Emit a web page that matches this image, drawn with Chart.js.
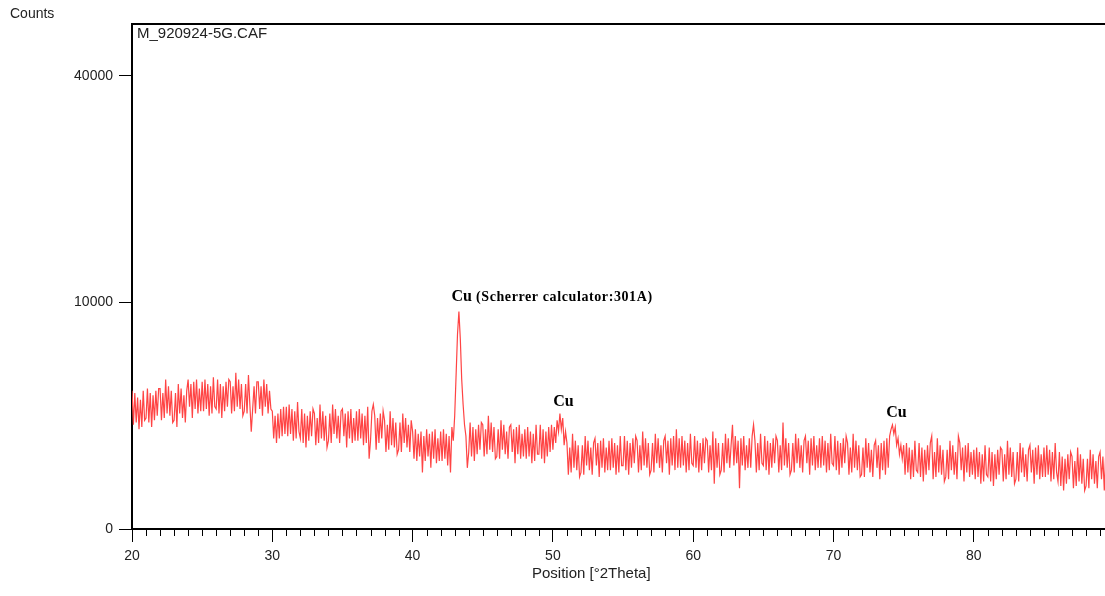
<!DOCTYPE html>
<html>
<head>
<meta charset="utf-8">
<title>M_920924-5G.CAF</title>
<script src="https://cdn.jsdelivr.net/npm/chart.js@4.4.1/dist/chart.umd.min.js"></script>
<style>
  html, body { margin: 0; padding: 0; background: #fff; }
</style>
</head>
<body>
<canvas id="xrdChart" width="1105" height="596"></canvas>
<script>
// scan: 20.0 .. 89.4 °2Theta, 0.1° step
const scanStart = 20.0;
const scanStep = 0.1;

// counts, ten points per degree (one row per degree)
const counts = [
  3721, 2116, 3600, 2209, 3364, 1936, 3249, 2025, 3721, 2304, // 20
  2401, 3844, 2209, 3600, 2025, 3481, 2304, 3721, 2500, 3844, // 21
  3844, 2304, 3600, 2401, 4356, 2601, 3969, 2500, 3721, 2209, // 22
  2304, 3600, 2025, 4096, 2601, 3844, 2401, 3481, 2209, 3721, // 23
  4356, 2916, 4096, 2401, 4225, 2809, 4356, 2601, 3844, 2704, // 24
  4225, 2704, 4356, 2809, 4096, 2500, 3969, 2601, 4489, 2916, // 25
  2809, 4356, 2601, 4096, 2401, 3969, 2704, 4225, 2916, 4356, // 26
  4225, 2601, 3969, 2704, 4761, 2916, 4356, 2809, 4096, 2500, // 27
  2704, 4096, 2601, 4624, 3025, 1849, 2809, 3969, 2601, 4225, // 28
  4225, 2809, 3969, 2500, 4356, 2916, 4096, 2601, 3721, 2809, // 29
  2704, 1600, 2500, 1444, 2601, 1600, 2809, 1681, 2916, 1764, // 30
  2916, 1681, 3025, 1764, 2809, 1521, 2704, 1600, 3136, 1849, // 31
  1600, 2809, 1444, 2601, 1296, 2500, 1521, 2704, 1681, 2809, // 32
  2601, 1369, 2401, 1444, 3025, 1600, 2704, 1521, 2500, 1296, // 33
  1521, 2601, 1444, 3025, 1764, 2809, 1600, 2500, 1444, 2704, // 34
  2809, 1681, 2601, 1296, 2704, 1600, 2809, 1444, 2401, 1521, // 35
  2704, 1521, 2809, 1600, 2601, 1369, 2500, 1444, 2916, 961,  // 36
  1521, 2704, 3025, 2500, 1225, 2401, 1444, 2601, 1600, 2704, // 37
  2304, 1156, 2116, 1225, 2704, 1369, 2401, 1296, 2209, 1089, // 38
  1225, 2209, 1156, 2601, 1444, 2401, 1296, 2116, 1156, 2304, // 39
  1849, 961,  1936, 900,  1764, 1024, 1849, 625,  1681, 900,  // 40
  1936, 1024, 1764, 729,  1849, 961,  1936, 841,  1600, 900,  // 41
  1849, 900,  1936, 961,  1764, 784,  1681, 625,  2025, 1521, // 42
  2500, 4624, 7396, 9216, 7056, 4356, 3025, 2116, 1681, 729,  // 43
  1156, 2209, 1024, 2025, 900,  1936, 1089, 2116, 1225, 2209, // 44
  2116, 1024, 1936, 1089, 2500, 1225, 2209, 1156, 2025, 961,  // 45
  1024, 1936, 961,  2304, 1225, 2116, 1089, 1849, 961,  2025, // 46
  2116, 1156, 1936, 841,  2025, 1089, 2116, 961,  1764, 1024, // 47
  1936, 961,  2025, 1024, 1849, 841,  1764, 900,  2116, 1089, // 48
  1089, 2116, 961,  1936, 841,  1849, 1024, 2025, 1156, 2116, // 49
  1225, 2025, 1444, 2304, 1849, 2601, 1936, 2401, 1369, 1849, // 50
  1444, 576,  1296, 625,  1764, 729,  1521, 676,  1369, 529,  // 51
  625,  1369, 576,  1681, 784,  1521, 676,  1296, 576,  1444, // 52
  1600, 784,  1444, 529,  1521, 729,  1600, 625,  1296, 676,  // 53
  1521, 676,  1600, 729,  1444, 576,  1369, 625,  1681, 784,  // 54
  784,  1681, 676,  1521, 576,  1444, 729,  1600, 841,  1681, // 55
  1521, 625,  1369, 676,  1849, 784,  1600, 729,  1444, 576,  // 56
  676,  1444, 625,  1764, 841,  1600, 729,  1369, 625,  1521, // 57
  1681, 841,  1521, 576,  1600, 784,  1681, 676,  1936, 729,  // 58
  1600, 729,  1681, 784,  1521, 625,  1444, 676,  1764, 841,  // 59
  784,  1681, 729,  1521, 625,  1444, 676,  1600, 841,  1600, // 60
  1521, 625,  1369, 676,  1849, 400,  1600, 729,  1444, 576,  // 61
  676,  1444, 625,  1764, 841,  1600, 729,  1369, 2116, 784,  // 62
  1681, 841,  1521, 324,  1600, 784,  1681, 676,  1369, 729,  // 63
  1600, 729,  1681, 2116, 1521, 625,  1444, 676,  1764, 841,  // 64
  784,  1681, 676,  1521, 576,  1444, 729,  1600, 841,  1681, // 65
  1521, 625,  1369, 676,  2209, 784,  1600, 729,  1444, 576,  // 66
  676,  1444, 625,  1764, 841,  1600, 729,  1369, 625,  1521, // 67
  1681, 841,  1521, 576,  1600, 784,  1681, 676,  1369, 729,  // 68
  1600, 729,  1681, 784,  1521, 625,  1444, 676,  1764, 841,  // 69
  784,  1681, 676,  1521, 576,  1444, 729,  1600, 841,  1681, // 70
  1444, 576,  1296, 625,  1764, 729,  1521, 676,  1369, 529,  // 71
  576,  1296, 529,  1600, 729,  1444, 625,  1225, 529,  1369, // 72
  1521, 729,  1369, 484,  1444, 676,  1521, 576,  1600, 729,  // 73
  1681, 1936, 2116, 1764, 2025, 1369, 1600, 1089, 1369, 961,  // 74
  1369, 576,  1444, 625,  1296, 484,  1225, 529,  1521, 676,  // 75
  625,  1444, 529,  1296, 441,  1225, 576,  1369, 676,  1444, // 76
  1681, 484,  1156, 529,  1600, 625,  1369, 576,  1225, 441,  // 77
  529,  1225, 484,  1521, 676,  1369, 576,  1156, 484,  1681, // 78
  1444, 676,  1296, 441,  1369, 625,  1444, 529,  1156, 576,  // 79
  1225, 484,  1296, 529,  1156, 400,  1089, 441,  1369, 576,  // 80
  529,  1296, 441,  1156, 361,  1089, 484,  1225, 576,  1296, // 81
  1225, 441,  1089, 484,  1521, 576,  1296, 529,  1156, 400,  // 82
  484,  1156, 441,  1444, 625,  1296, 529,  1089, 441,  1225, // 83
  1369, 625,  1225, 400,  1296, 576,  1369, 484,  1089, 529,  // 84
  1296, 529,  1369, 576,  1225, 441,  1156, 484,  1444, 625,  // 85
  441,  1156, 361,  1024, 289,  961,  400,  1089, 484,  1156, // 86
  1024, 324,  900,  361,  1296, 441,  1089, 400,  961,  289,  // 87
  361,  961,  324,  1225, 484,  1089, 400,  900,  324,  1024, // 88
  1156, 484,  1024, 289,  1089                                // 89.0 - 89.4
];

const yTickValues = [0, 10000, 40000];

// peak annotations: left edge (°2Theta) and baseline (counts)
const peakNames = ["Cu", "Cu", "Cu"];
const peakNotes = ["(Scherrer calculator:301A)", "", ""];
const peakLabelTheta = [42.77, 50.02, 73.75];
const peakLabelCounts = [10140, 2950, 2445];

// square-root intensity axis, as HighScore draws it
class SqrtScale extends Chart.LinearScale {
  static id = "sqrt";
  static defaults = {};
  buildTicks() {
    return yTickValues.map((v) => ({ value: v }));
  }
  getPixelForValue(value) {
    const lo = Math.sqrt(this.min);
    const hi = Math.sqrt(this.max);
    return this.getPixelForDecimal((Math.sqrt(Math.max(value, 0)) - lo) / (hi - lo));
  }
  getValueForPixel(pixel) {
    const lo = Math.sqrt(this.min);
    const hi = Math.sqrt(this.max);
    const s = lo + this.getDecimalForPixel(pixel) * (hi - lo);
    return s * s;
  }
}
Chart.register(SqrtScale);

const sansFont = '"Liberation Sans", Arial, sans-serif';
const serifFont = '"Liberation Serif", "Times New Roman", serif';

// minor ticks, top frame line and the free texts
const axisExtras = {
  id: "axisExtras",
  afterDraw(chart) {
    const { ctx, chartArea, scales } = chart;
    const x = scales.x;
    const y = scales.y;
    ctx.save();

    ctx.strokeStyle = "#000";
    ctx.lineWidth = 1;
    ctx.beginPath();
    for (let v = Math.ceil(x.min); v <= x.max; v++) {
      if (v % 10 === 0) continue;
      const px = Math.round(x.getPixelForValue(v)) + 0.5;
      ctx.moveTo(px, chartArea.bottom);
      ctx.lineTo(px, chartArea.bottom + 7);
    }
    ctx.stroke();

    ctx.lineWidth = 2;
    ctx.beginPath();
    ctx.moveTo(chartArea.left - 1, chartArea.top);
    ctx.lineTo(chartArea.right, chartArea.top);
    ctx.stroke();

    ctx.fillStyle = "#222";
    ctx.textAlign = "left";
    ctx.textBaseline = "alphabetic";
    ctx.font = "14px " + sansFont;
    ctx.fillText("Counts", 10, 18);
    ctx.font = "15px " + sansFont;
    ctx.fillText("M_920924-5G.CAF", 137, 38);
    ctx.fillText("Position [°2Theta]", 532, 578);

    ctx.fillStyle = "#000";
    peakLabelTheta.forEach((t, i) => {
      const px = x.getPixelForValue(t);
      const py = y.getPixelForValue(peakLabelCounts[i]);
      ctx.font = "bold 16px " + serifFont;
      ctx.fillText(peakNames[i], px, py);
      if (peakNotes[i]) {
        const w = ctx.measureText(peakNames[i]).width;
        ctx.font = "bold 14px " + serifFont;
        ctx.letterSpacing = "0.6px";
        ctx.fillText(" " + peakNotes[i], px + w, py);
        ctx.letterSpacing = "0px";
      }
    });

    ctx.restore();
  },
};

const points = counts.map((c, i) => ({
  x: +(scanStart + i * scanStep).toFixed(2),
  y: c,
}));

new Chart(document.getElementById("xrdChart"), {
  type: "line",
  data: {
    datasets: [
      {
        label: "M_920924-5G.CAF",
        data: points,
        borderColor: "#ff4444",
        borderWidth: 1.2,
        pointRadius: 0,
        tension: 0,
        fill: false,
      },
    ],
  },
  options: {
    responsive: false,
    animation: false,
    layout: { padding: { top: 24, left: 0, right: 0, bottom: 0 } },
    plugins: {
      legend: { display: false },
      tooltip: { enabled: false },
    },
    scales: {
      x: {
        type: "linear",
        min: 20,
        max: 89.35,
        grid: { drawOnChartArea: false, tickLength: 13, color: "#000" },
        border: { color: "#000", width: 2 },
        ticks: {
          stepSize: 10,
          includeBounds: false,
          autoSkip: false,
          maxRotation: 0,
          padding: 6,
          color: "#222",
          font: { family: sansFont, size: 14 },
        },
        afterFit(scale) {
          scale.height = 67;
        },
      },
      y: {
        type: "sqrt",
        min: 0,
        max: 49700,
        grid: { drawOnChartArea: false, tickLength: 13, color: "#000" },
        border: { color: "#000", width: 2 },
        ticks: {
          padding: 6,
          color: "#222",
          font: { family: sansFont, size: 14 },
          callback: (v) => String(v),
        },
        afterFit(scale) {
          scale.width = 132;
        },
      },
    },
  },
  plugins: [axisExtras],
});
</script>
</body>
</html>
